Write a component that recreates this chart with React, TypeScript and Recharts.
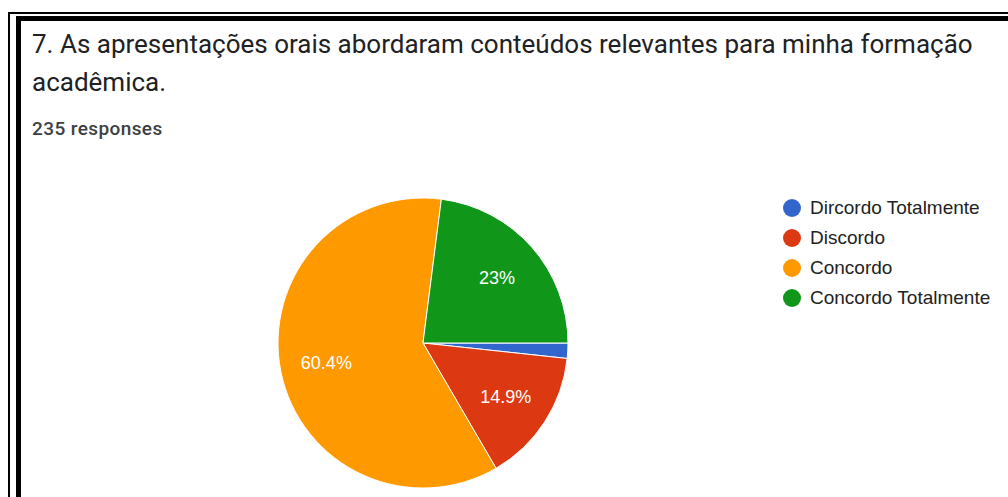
import React from 'react';
import { PieChart, Pie, Cell } from 'recharts';

// answers to question 7 (235 responses)
const answers = ['Dircordo Totalmente', 'Discordo', 'Concordo', 'Concordo Totalmente'];
const counts = [4, 35, 142, 54];
const colors = ['#3366cc', '#dc3912', '#ff9900', '#109618'];

const titleLines = ['7. As apresentações orais abordaram conteúdos relevantes para minha formação', 'acadêmica.'];
const responsesLabel = '235 responses';

const data = answers.map((name, i) => ({ name, value: counts[i] }));

const RAD = Math.PI / 180;
const chartFont = "'Liberation Sans', Arial, sans-serif";

const formatPct = (p: number) => {
  const s = (p * 100).toFixed(1);
  return (s.endsWith('.0') ? s.slice(0, -2) : s) + '%';
};

const SliceLabel = (props: any) => {
  const { cx, cy, midAngle, outerRadius, percent } = props;
  if (percent < 0.05) return null;
  const r = outerRadius * 0.68;
  const x = cx + r * Math.cos(-midAngle * RAD);
  const y = cy + r * Math.sin(-midAngle * RAD);
  return <text x={x} y={y} fill="#ffffff" textAnchor="middle" dominantBaseline="central" fontFamily={chartFont} fontSize={18}>
      {formatPct(percent)}
    </text>;
};

export default function App() {
  return <div style={{ position: 'absolute', left: 0, top: 0, width: 1008, height: 497, overflow: 'hidden', background: '#ffffff' }}>
      {/* double frame of the screenshot */}
      <div style={{ position: 'absolute', left: 8, top: 12, width: 1000, height: 2, background: '#000' }} />
      <div style={{ position: 'absolute', left: 8, top: 12, width: 2, height: 485, background: '#000' }} />
      <div style={{ position: 'absolute', left: 16, top: 16, width: 992, height: 5, background: '#000' }} />
      <div style={{ position: 'absolute', left: 16, top: 16, width: 5, height: 481, background: '#000' }} />

      <div style={{ position: 'absolute', left: 32, top: 25, fontFamily: 'Roboto, sans-serif', fontSize: 26, lineHeight: '38px', color: '#202124', whiteSpace: 'nowrap' }}>
        {titleLines.map((t, i) => <div key={i}>{t}</div>)}
      </div>
      <div style={{ position: 'absolute', left: 32, top: 117, fontFamily: 'Roboto, sans-serif', fontSize: 19, fontWeight: 500, letterSpacing: 0.4, color: '#3c4043', whiteSpace: 'nowrap' }}>
        {responsesLabel}
      </div>

      <div style={{ position: 'absolute', left: 0, top: 0 }}>
        <PieChart width={1008} height={497} margin={{ top: 0, right: 0, bottom: 0, left: 0 }}>
          <Pie data={data} dataKey="value" nameKey="name" cx={423} cy={343} outerRadius={145} startAngle={0} endAngle={-360} stroke="#ffffff" strokeWidth={1} label={SliceLabel} labelLine={false} isAnimationActive={false}>
            {data.map((d, i) => <Cell key={d.name} fill={colors[i]} />)}
          </Pie>
        </PieChart>
      </div>

      <div style={{ position: 'absolute', left: 783, top: 193, fontFamily: chartFont, fontSize: 19, color: '#222222' }}>
        {answers.map((name, i) => <div key={name} style={{ display: 'flex', alignItems: 'center', height: 30 }}>
            <span style={{ width: 18, height: 18, borderRadius: 9, background: colors[i], marginRight: 9, flexShrink: 0 }} />
            <span style={{ whiteSpace: 'nowrap' }}>{name}</span>
          </div>)}
      </div>
    </div>;
}
